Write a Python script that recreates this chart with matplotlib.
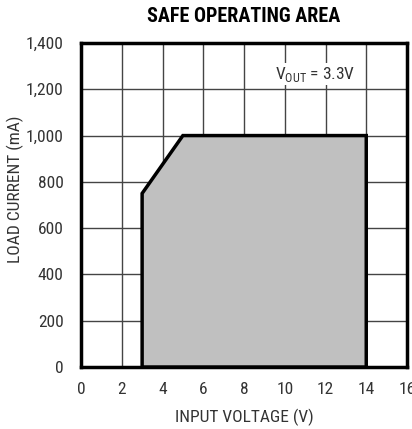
import matplotlib
matplotlib.use("Agg")
import matplotlib.pyplot as plt
from matplotlib.patches import Polygon

# safe operating area boundary (input voltage V, load current mA)
soa_v = [3, 3, 5, 14, 14]
soa_i = [0, 750, 1000, 1000, 0]

x_ticks = [0, 2, 4, 6, 8, 10, 12, 14, 16]
y_ticks = [0, 200, 400, 600, 800, 1000, 1200, 1400]
y_labels = ["0", "200", "400", "600", "800", "1,000", "1,200", "1,400"]

plt.rcParams["font.family"] = ["Liberation Sans Narrow", "DejaVu Sans Condensed",
                               "Roboto Condensed", "Liberation Sans", "DejaVu Sans"]
plt.rcParams["mathtext.fontset"] = "custom"

fig = plt.figure(figsize=(4.12, 4.29), dpi=100)
ax = fig.add_axes([81 / 412, 1 - 367 / 429, 326 / 412, 324 / 429])

ax.add_patch(Polygon(list(zip(soa_v, soa_i)), closed=True,
                     facecolor="#c0c0c0", edgecolor="black", linewidth=2.5,
                     joinstyle="miter", zorder=3))

ax.set_xlim(0, 16)
ax.set_ylim(0, 1400)
ax.set_xticks(x_ticks)
ax.set_yticks(y_ticks)
ax.set_yticklabels(y_labels)
ax.tick_params(length=0, labelsize=12.5, labelcolor="#333333")
ax.tick_params(axis="x", pad=11)
ax.tick_params(axis="y", pad=12.5)
ax.grid(True, color="#444444", linewidth=1.0)
ax.set_axisbelow(True)
for s in ax.spines.values():
    s.set_linewidth(2.5)

ax.text(13.45, 1265, r"V$_{\mathregular{OUT}}$ = 3.3V", ha="right", va="center",
        fontsize=12.5, color="#333333",
        bbox=dict(facecolor="white", edgecolor="none", pad=1), zorder=2)

ax.set_xlabel("INPUT VOLTAGE (V)", fontsize=12.5, color="#333333", labelpad=8)
ax.set_ylabel("LOAD CURRENT (mA)", fontsize=12.5, color="#333333")
ax.yaxis.set_label_coords(-0.175, 0.55)
fig.suptitle("SAFE OPERATING AREA", fontsize=14.5, fontweight="bold",
             x=244 / 412, y=1 - 16 / 429, va="center")

fig.savefig("out.png", dpi=100)
